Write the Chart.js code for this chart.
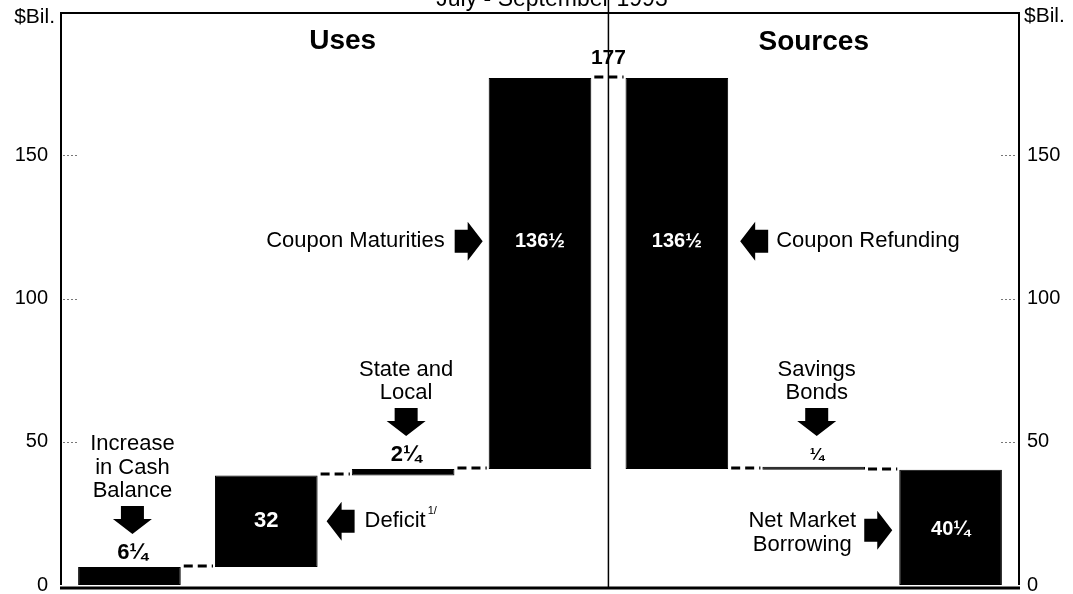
<!DOCTYPE html>
<html>
<head>
<meta charset="utf-8">
<script src="https://cdn.jsdelivr.net/npm/chart.js@4"></script>
<style>
html, body { margin: 0; padding: 0; background: #fff; }
</style>
</head>
<body>
<canvas id="grafico-financiamiento" width="1073" height="594"></canvas>
<script>
// datos ($ miles de millones)
const categorias = ["Increase in Cash Balance", "Deficit", "State and Local", "Coupon Maturities",
                    "Coupon Refunding", "Savings Bonds", "Net Market Borrowing"];
const desde = [0, 6.25, 38.25, 40.5, 177, 40.5, 40.25];
const hasta = [6.25, 38.25, 40.5, 177, 40.5, 40.25, 0];
const etiquetas = ["6\u00BC", "32", "2\u00BC", "136\u00BD", "136\u00BD", "\u00BC", "40\u00BC"];
const ticksY = [0, 50, 100, 150, 200];
const total = 177;

const FUENTE = "'Liberation Sans', Arial, Helvetica, sans-serif";

function flecha(ctx, cx, cy, dir) {
    // flecha de bloque: cuerpo rectangular + punta triangular
    const L = 28, H = 15, W = 39, w = 23;
    ctx.save();
    ctx.translate(cx, cy);
    ctx.rotate(dir === "abajo" ? Math.PI / 2 : dir === "izq" ? Math.PI : 0);
    ctx.beginPath();
    ctx.moveTo(-L / 2, -w / 2);
    ctx.lineTo(L / 2 - H, -w / 2);
    ctx.lineTo(L / 2 - H, -W / 2);
    ctx.lineTo(L / 2, 0);
    ctx.lineTo(L / 2 - H, W / 2);
    ctx.lineTo(L / 2 - H, w / 2);
    ctx.lineTo(-L / 2, w / 2);
    ctx.closePath();
    ctx.fillStyle = "#000";
    ctx.fill();
    ctx.restore();
}

function texto(ctx, t, x, y, tam, peso, color, alin) {
    ctx.font = `${peso} ${tam}px ${FUENTE}`;
    ctx.fillStyle = color;
    ctx.textAlign = alin || "center";
    ctx.textBaseline = "middle";
    ctx.fillText(t, x, y);
    return ctx.measureText(t).width;
}

const marco = {
    id: "marco",
    afterDatasetsDraw(chart) {
        const ctx = chart.ctx;
        const area = chart.chartArea;
        const y = chart.scales.y;
        const barras = chart.getDatasetMeta(0).data;
        const divisor = (barras[3].x + barras[4].x) / 2;

        ctx.save();
        // lineas de conexion punteadas entre barras
        ctx.strokeStyle = "#000";
        ctx.lineWidth = 3;
        ctx.setLineDash([9, 5]);
        for (let i = 0; i < barras.length - 1; i++) {
            const py = Math.round(y.getPixelForValue(hasta[i])) - 1;
            ctx.beginPath();
            ctx.moveTo(barras[i].x + barras[i].width / 2 + 3, py);
            ctx.lineTo(barras[i + 1].x - barras[i + 1].width / 2 - 2, py);
            ctx.stroke();
        }

        // marcas cortas punteadas de la escala
        ctx.setLineDash([2, 2]);
        ctx.lineWidth = 1;
        ctx.strokeStyle = "#777";
        [50, 100, 150].forEach(v => {
            const py = Math.round(y.getPixelForValue(v)) + 0.5;
            ctx.beginPath();
            ctx.moveTo(area.left + 2, py); ctx.lineTo(area.left + 18, py);
            ctx.moveTo(area.right - 18, py); ctx.lineTo(area.right - 2, py);
            ctx.stroke();
        });
        ctx.setLineDash([]);

        // marco
        ctx.strokeStyle = "#000";
        ctx.lineWidth = 2;
        ctx.beginPath();
        ctx.moveTo(area.left, area.bottom);
        ctx.lineTo(area.left, area.top + 1);
        ctx.lineTo(area.right, area.top + 1);
        ctx.lineTo(area.right, area.bottom);
        ctx.stroke();
        ctx.lineWidth = 3;
        ctx.beginPath();
        ctx.moveTo(area.left - 1, area.bottom + 3);
        ctx.lineTo(area.right + 1, area.bottom + 3);
        ctx.stroke();
        ctx.lineWidth = 1.5;
        ctx.beginPath();
        ctx.moveTo(divisor, 0);
        ctx.lineTo(divisor, area.bottom + 2);
        ctx.stroke();

        // titulo (cortado arriba, como en el original)
        ctx.font = `23px ${FUENTE}`;
        ctx.fillStyle = "#000";
        ctx.textAlign = "center";
        ctx.textBaseline = "alphabetic";
        ctx.fillText("July - September 1993", 552, 6);

        texto(ctx, "$Bil.", area.left - 6, 17, 21, "normal", "#000", "right");
        texto(ctx, "$Bil.", area.right + 5, 16, 21, "normal", "#000", "left");

        texto(ctx, "Uses", (area.left + divisor) / 2 + 8, 41, 28, "bold", "#000");
        texto(ctx, "Sources", (divisor + area.right) / 2, 42, 28, "bold", "#000");
        texto(ctx, String(total), divisor, 58, 21, "bold", "#000");

        // anotaciones encima de barras delgadas
        const encima = { 0: ["Increase", "in Cash", "Balance"], 2: ["State and", "Local"], 5: ["Savings", "Bonds"] };
        Object.keys(encima).forEach(k => {
            const i = Number(k);
            const tope = y.getPixelForValue(Math.max(desde[i], hasta[i]));
            const cx = barras[i].x + 3;
            texto(ctx, etiquetas[i], cx, tope - 14, i === 5 ? 17 : 22, "bold", "#000");
            flecha(ctx, cx, tope - 47, "abajo");
            const lineas = encima[k];
            lineas.forEach((l, j) => {
                texto(ctx, l, cx, tope - 76 - (lineas.length - 1 - j) * 23.5, 22, "normal", "#000");
            });
        });

        // Deficit
        const b1 = barras[1];
        const m1 = y.getPixelForValue((desde[1] + hasta[1]) / 2);
        texto(ctx, etiquetas[1], b1.x, m1, 22, "bold", "#fff");
        flecha(ctx, b1.x + b1.width / 2 + 23, m1, "izq");
        const anchoDef = texto(ctx, "Deficit", b1.x + b1.width / 2 + 47, m1, 22, "normal", "#000", "left");
        texto(ctx, "1/", b1.x + b1.width / 2 + 49 + anchoDef, m1 - 10, 11, "normal", "#000", "left");

        // Coupon Maturities / Refunding
        const yc = y.getPixelForValue(120);
        const b3 = barras[3], b4 = barras[4];
        texto(ctx, etiquetas[3], b3.x, yc, 20, "bold", "#fff");
        texto(ctx, etiquetas[4], b4.x, yc, 20, "bold", "#fff");
        flecha(ctx, b3.x - b3.width / 2 - 20, yc, "der");
        texto(ctx, "Coupon Maturities", b3.x - b3.width / 2 - 44, yc, 22, "normal", "#000", "right");
        flecha(ctx, b4.x + b4.width / 2 + 26, yc, "izq");
        texto(ctx, "Coupon Refunding", b4.x + b4.width / 2 + 48, yc, 22, "normal", "#000", "left");

        // Net Market Borrowing
        const b6 = barras[6];
        const m6 = y.getPixelForValue((desde[6] + hasta[6]) / 2);
        texto(ctx, etiquetas[6], b6.x, m6 + 2, 20, "bold", "#fff");
        flecha(ctx, b6.x - b6.width / 2 - 21, m6 + 3, "der");
        texto(ctx, "Net Market", b6.x - b6.width / 2 - 97, m6 - 6, 22, "normal", "#000");
        texto(ctx, "Borrowing", b6.x - b6.width / 2 - 97, m6 + 18, 22, "normal", "#000");

        ctx.restore();
    }
};

function ejeY(posicion, ancho, relleno) {
    return {
        position: posicion,
        min: 0,
        max: 200,
        afterBuildTicks: s => { s.ticks = ticksY.map(v => ({ value: v })); },
        ticks: {
            callback: v => (v === 200 ? "" : v),
            font: { family: FUENTE, size: 20 },
            color: "#000",
            padding: relleno
        },
        grid: { display: false, drawTicks: false },
        border: { display: false },
        afterFit: s => {
            s.width = ancho;
            s.paddingTop = 0;
            s.paddingBottom = 0;
        }
    };
}

const ctx = document.getElementById("grafico-financiamiento");
new Chart(ctx, {
    type: "bar",
    data: {
        labels: categorias,
        datasets: [{
            data: categorias.map((c, i) => [desde[i], hasta[i]]),
            backgroundColor: "#000",
            borderColor: "#000",
            borderWidth: 1,
            borderSkipped: false,
            minBarLength: 3,
            barPercentage: 0.75,
            categoryPercentage: 1
        }]
    },
    options: {
        responsive: false,
        animation: false,
        devicePixelRatio: 1,
        layout: { padding: { top: 12, left: 0, right: 0, bottom: 0 } },
        plugins: { legend: { display: false }, tooltip: { enabled: false } },
        scales: {
            x: {
                grid: { display: false, drawTicks: false },
                ticks: { display: false },
                border: { display: false },
                afterFit: s => { s.height = 9; s.paddingLeft = 0; s.paddingRight = 0; }
            },
            y: ejeY("left", 61, 13),
            y2: ejeY("right", 54, 8)
        }
    },
    plugins: [marco]
});
</script>
</body>
</html>
